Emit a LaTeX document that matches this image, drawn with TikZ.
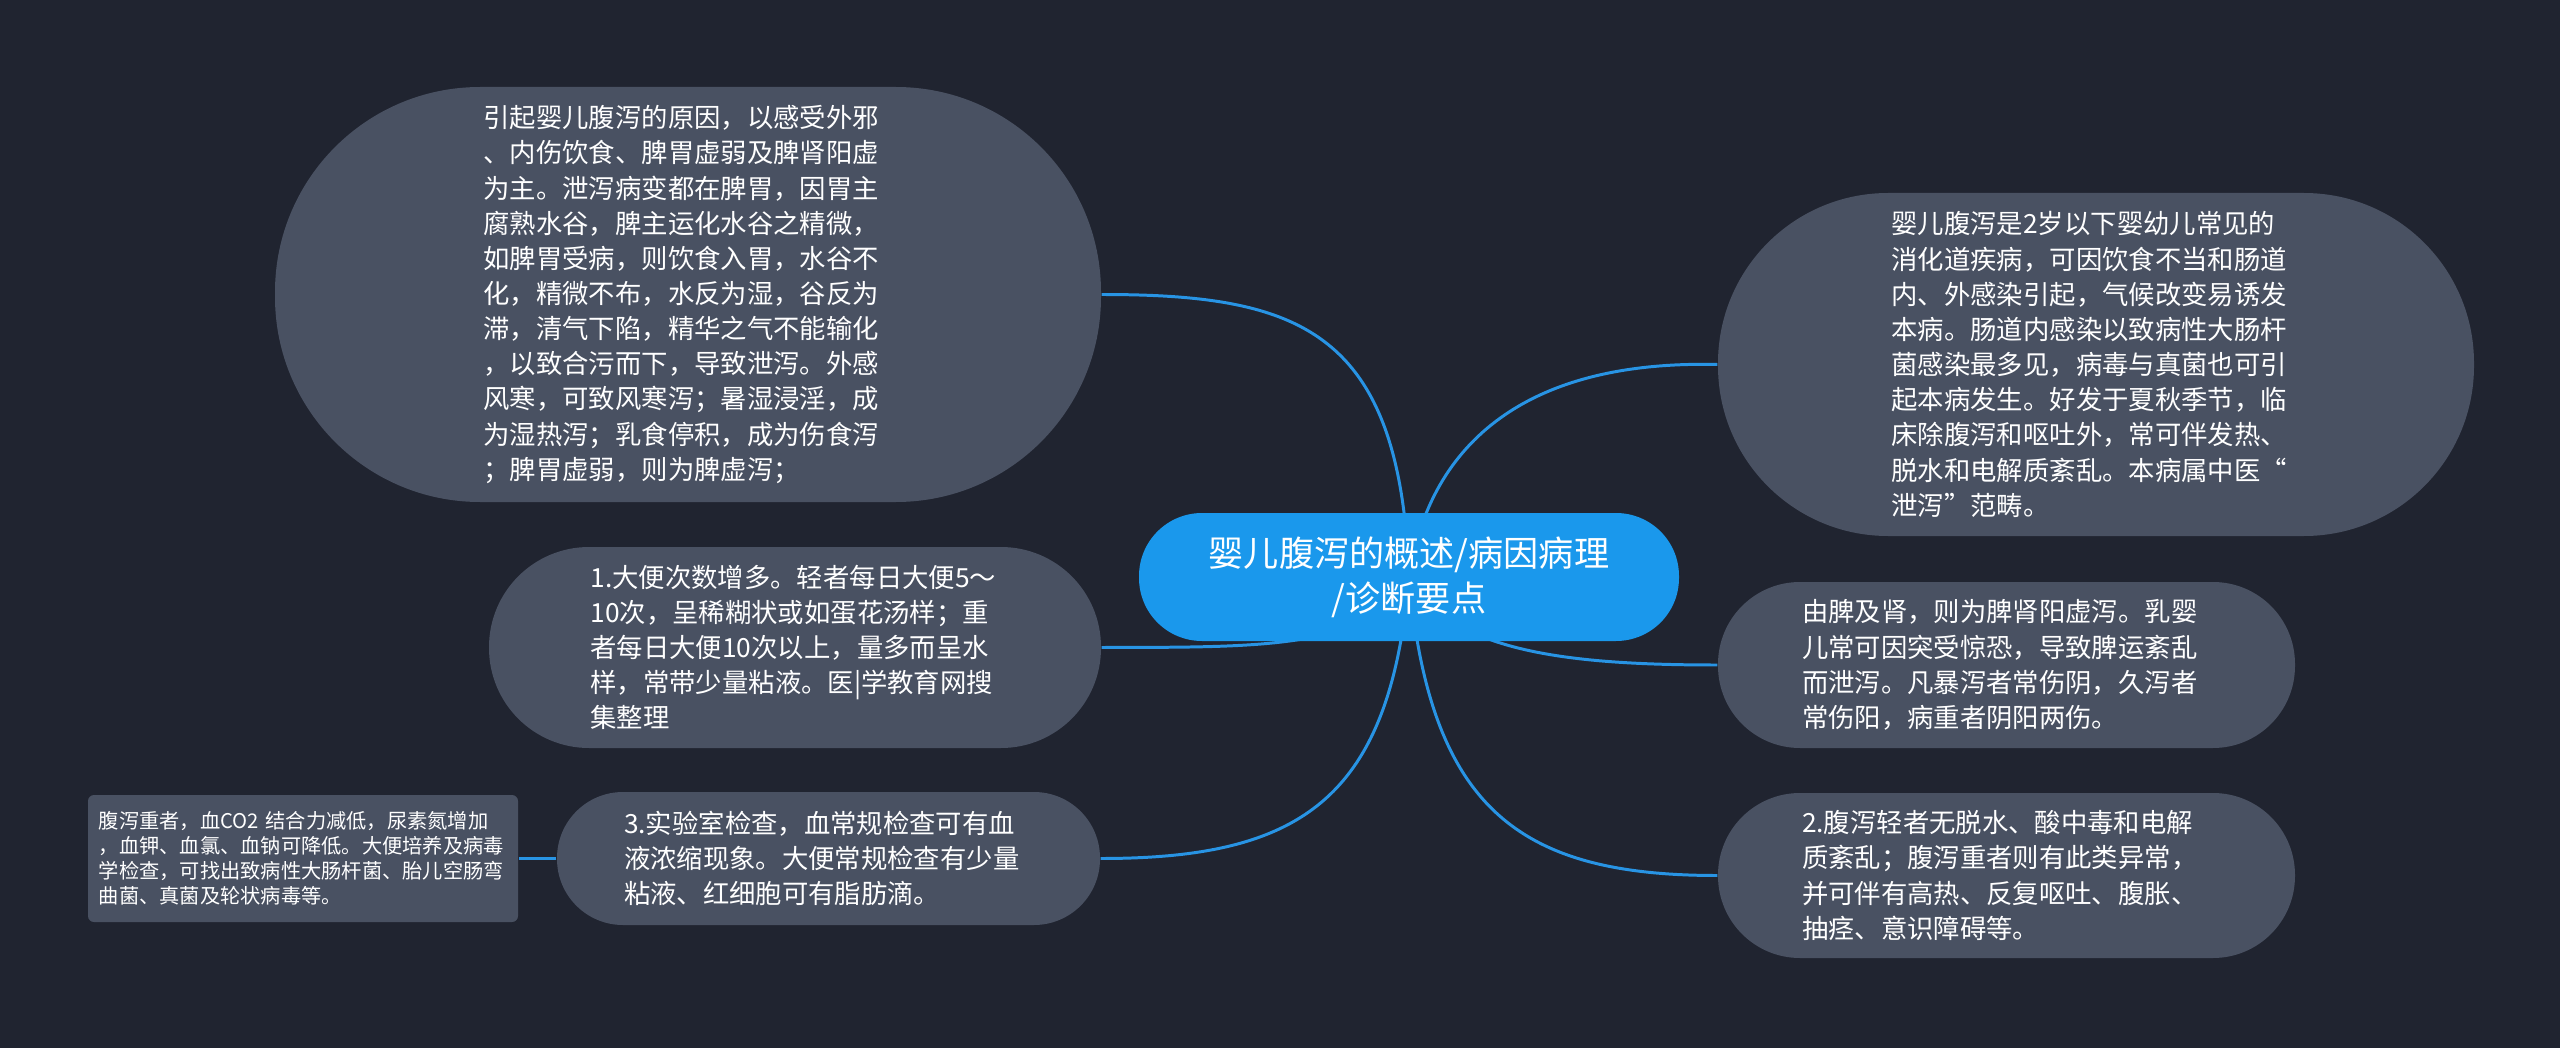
\documentclass[tikz,border=0pt]{standalone}
\usepackage{fontspec}
\setmainfont{Noto Sans CJK SC}
\usetikzlibrary{backgrounds}
\definecolor{pagebg}{RGB}{32,36,48}
\definecolor{topicgray}{RGB}{73,81,98}
\definecolor{rootblue}{RGB}{26,152,236}
\definecolor{linkblue}{RGB}{40,148,228}

\begin{document}
\begin{tikzpicture}[
    topic/.style={fill=topicgray, text=white, inner sep=0pt, align=left, text width=4.09cm, font=\fontsize{7.5pt}{10pt}\selectfont},
    note/.style={fill=topicgray, text=white, inner sep=0pt, align=left, text width=4.08cm, rounded corners=0.06cm, font=\fontsize{5.76pt}{7.1pt}\selectfont},
    link/.style={draw=linkblue, line width=0.85pt}
  ]
  \useasboundingbox (0,0) rectangle (25.6,-10.48);
  \begin{scope}[on background layer]
    \fill[pagebg] (0,0) rectangle (25.6,-10.48);
  \end{scope}

  % Root
  \node[fill=rootblue, rounded corners=0.63cm, minimum width=5.4cm, minimum height=1.28cm, inner sep=0pt, text=white, align=center, font=\fontsize{10pt}{12.8pt}\selectfont] (root) at (14.09,-5.77) {婴儿腹泻的概述/病因病理\\/诊断要点};

  % Causes
  \node[topic, rounded corners=2.05cm, minimum width=8.26cm, minimum height=4.15cm] (causes) at (6.88,-2.945) {引起婴儿腹泻的原因，以感受外邪\\、内伤饮食、脾胃虚弱及脾肾阳虚\\为主。泄泻病变都在脾胃，因胃主\\腐熟水谷，脾主运化水谷之精微，\\如脾胃受病，则饮食入胃，水谷不\\化，精微不布，水反为湿，谷反为\\滞，清气下陷，精华之气不能输化\\，以致合污而下，导致泄泻。外感\\风寒，可致风寒泻；暑湿浸淫，成\\为湿热泻；乳食停积，成为伤食泻\\；脾胃虚弱，则为脾虚泻；};

  % Overview
  \node[topic, rounded corners=1.7cm, minimum width=7.56cm, minimum height=3.43cm] (overview) at (20.96,-3.645) {婴儿腹泻是2岁以下婴幼儿常见的\\消化道疾病，可因饮食不当和肠道\\内、外感染引起，气候改变易诱发\\本病。肠道内感染以致病性大肠杆\\菌感染最多见，病毒与真菌也可引\\起本病发生。好发于夏秋季节，临\\床除腹泻和呕吐外，常可伴发热、\\脱水和电解质紊乱。本病属中医“\\泄泻”范畴。};

  % Point 1
  \node[topic, rounded corners=1.0cm, minimum width=6.12cm, minimum height=2.01cm] (stool) at (7.95,-6.475) {1.大便次数增多。轻者每日大便5～\\10次，呈稀糊状或如蛋花汤样；重\\者每日大便10次以上，量多而呈水\\样，常带少量粘液。医|学教育网搜\\集整理};

  % Spleen and kidney
  \node[topic, rounded corners=0.82cm, minimum width=5.77cm, minimum height=1.66cm] (kidney) at (20.065,-6.65) {由脾及肾，则为脾肾阳虚泻。乳婴\\儿常可因突受惊恐，导致脾运紊乱\\而泄泻。凡暴泻者常伤阴，久泻者\\常伤阳，病重者阴阳两伤。};

  % Point 2
  \node[topic, rounded corners=0.82cm, minimum width=5.77cm, minimum height=1.65cm] (severe) at (20.065,-8.755) {2.腹泻轻者无脱水、酸中毒和电解\\质紊乱；腹泻重者则有此类异常，\\并可伴有高热、反复呕吐、腹胀、\\抽痉、意识障碍等。};

  % Point 3
  \node[topic, rounded corners=0.66cm, minimum width=5.43cm, minimum height=1.33cm] (labtest) at (8.285,-8.585) {3.实验室检查，血常规检查可有血\\液浓缩现象。大便常规检查有少量\\粘液、红细胞可有脂肪滴。};

  % Lab detail
  \node[note, minimum width=4.3cm, minimum height=1.27cm] (labnote) at (3.03,-8.585) {腹泻重者，血CO2 结合力减低，尿素氮增加\\，血钾、血氯、血钠可降低。大便培养及病毒\\学检查，可找出致病性大肠杆菌、胎儿空肠弯\\曲菌、真菌及轮状病毒等。};

  % Connectors
  \begin{scope}[on background layer]
    \draw[link] (root.center) .. controls (14.0,-3.3) and (13.0,-2.945) .. (causes.east);
    \draw[link] (root.center) .. controls (14.3,-4.4) and (15.3,-3.6) .. (overview.west);
    \draw[link] (root.center) .. controls (13.7,-6.5) and (12.6,-6.47) .. (stool.east);
    \draw[link] (root.center) .. controls (14.5,-6.5) and (15.6,-6.65) .. (kidney.west);
    \draw[link] (root.center) .. controls (13.9,-8.0) and (13.0,-8.585) .. (labtest.east);
    \draw[link] (root.center) .. controls (14.3,-8.1) and (15.2,-8.755) .. (severe.west);
    \draw[link] (labtest.west) -- (labnote.east);
  \end{scope}
\end{tikzpicture}
\end{document}
